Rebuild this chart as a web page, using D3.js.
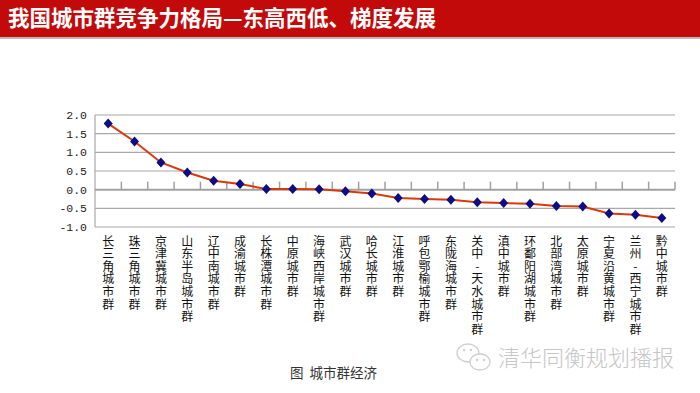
<!DOCTYPE html>
<html><head><meta charset="utf-8">
<script src="https://cdn.jsdelivr.net/npm/d3@7"></script>
<style>body{margin:0;background:#fff}svg{display:block}</style>
</head><body>
<svg id="c" width="700" height="393"></svg>
<script>
const titleText = "我国城市群竞争力格局—东高西低、梯度发展";
const categories = ["长三角城市群","珠三角城市群","京津冀城市群","山东半岛城市群","辽中南城市群","成渝城市群","长株潭城市群","中原城市群","海峡西岸城市群","武汉城市群","哈长城市群","江淮城市群","呼包鄂榆城市群","东陇海城市群","关中-天水城市群","滇中城市群","环鄱阳湖城市群","北部湾城市群","太原城市群","宁夏沿黄城市群","兰州-西宁城市群","黔中城市群"];
const values = [1.77,1.29,0.73,0.46,0.24,0.15,0.02,0.02,0.01,-0.04,-0.10,-0.22,-0.25,-0.27,-0.34,-0.36,-0.38,-0.44,-0.45,-0.64,-0.67,-0.76];
const yTicks = [2.0,1.5,1.0,0.5,0.0,-0.5,-1.0];
const captionText = "图  城市群经济";
const watermarkText = "清华同衡规划播报";

const svg = d3.select("#c");
const cjk = "'Noto Sans CJK SC','Noto Sans',sans-serif";

// title bar
svg.append("rect").attr("x",0).attr("y",0).attr("width",700).attr("height",37).attr("fill","#c20a0a");
svg.append("rect").attr("x",0).attr("y",37).attr("width",700).attr("height",2).attr("fill","#b9b9b9");
svg.append("text").attr("x",8).attr("y",26).attr("fill","#fff")
  .attr("font-family",cjk).attr("font-weight","bold").attr("font-size",21.5)
  .text(titleText);

const x = d3.scaleBand().domain(categories).range([95,675]).paddingInner(0).paddingOuter(0);
const y = d3.scaleLinear().domain([-1,2]).range([227,115]);

// gridlines
svg.append("g").selectAll("line").data(yTicks.filter(t=>t!==0)).join("line")
  .attr("x1",95).attr("x2",675).attr("y1",d=>y(d)).attr("y2",d=>y(d))
  .attr("stroke","#a8a8a8").attr("stroke-width",1.2);
// left axis
svg.append("line").attr("x1",95).attr("x2",95).attr("y1",y(2)).attr("y2",y(-1))
  .attr("stroke","#a8a8a8").attr("stroke-width",1.2);
// y labels
svg.append("g").selectAll("text").data(yTicks).join("text")
  .attr("x",87).attr("y",d=>y(d)+4).attr("text-anchor","end")
  .attr("font-family","'Liberation Mono','DejaVu Sans Mono',monospace").attr("font-size",11.5)
  .attr("fill","#222").text(d=>d3.format(".1f")(d).replace("−","-"));
// zero axis with upward ticks
svg.append("line").attr("x1",95).attr("x2",675).attr("y1",y(0)).attr("y2",y(0))
  .attr("stroke","#a0a0a0").attr("stroke-width",2);
const bounds = categories.map(c=>x(c)+x.bandwidth());
svg.append("g").selectAll("line").data(bounds).join("line")
  .attr("x1",d=>d).attr("x2",d=>d).attr("y1",y(0)).attr("y2",y(0)-8)
  .attr("stroke","#a0a0a0").attr("stroke-width",1.5);

// line
const cx = c=>x(c)+x.bandwidth()/2;
svg.append("path").datum(values)
  .attr("d",d3.line().x((d,i)=>cx(categories[i])).y(d=>y(d)))
  .attr("fill","none").attr("stroke","#d8390c").attr("stroke-width",2);
// markers
svg.append("g").selectAll("path").data(values).join("path")
  .attr("transform",(d,i)=>`translate(${cx(categories[i])},${y(d)})`)
  .attr("d","M0,-5L4.5,0L0,5L-4.5,0Z").attr("fill","#0c0c84");

// category labels vertical
svg.append("g").selectAll("text").data(categories).join("text")
  .attr("x",c=>cx(c)).attr("y",235)
  .style("writing-mode","vertical-rl").style("text-orientation","upright")
  .attr("font-family",cjk).attr("font-size",12).attr("letter-spacing",0.6)
  .attr("fill","#111").text(c=>c);

// caption
svg.append("text").attr("x",290).attr("y",378).attr("font-family",cjk).attr("font-size",13.5)
  .style("white-space","pre").attr("fill","#333").text(captionText);

// watermark
const wm = svg.append("g").attr("fill","none").attr("stroke","#cfcfcf").attr("stroke-width",1.3);
wm.append("ellipse").attr("cx",468).attr("cy",353).attr("rx",11).attr("ry",9);
wm.append("ellipse").attr("cx",480).attr("cy",362).attr("rx",10).attr("ry",8).attr("fill","#fff");
svg.append("g").attr("fill","#cfcfcf").selectAll("circle")
  .data([[464,350],[471,350],[477,360],[484,360]]).join("circle")
  .attr("cx",d=>d[0]).attr("cy",d=>d[1]).attr("r",1.2);
svg.append("text").attr("x",498).attr("y",366).attr("font-family",cjk).attr("font-weight",300)
  .attr("font-size",22).attr("fill","#c6c6c6").text(watermarkText);
</script>
</body></html>
